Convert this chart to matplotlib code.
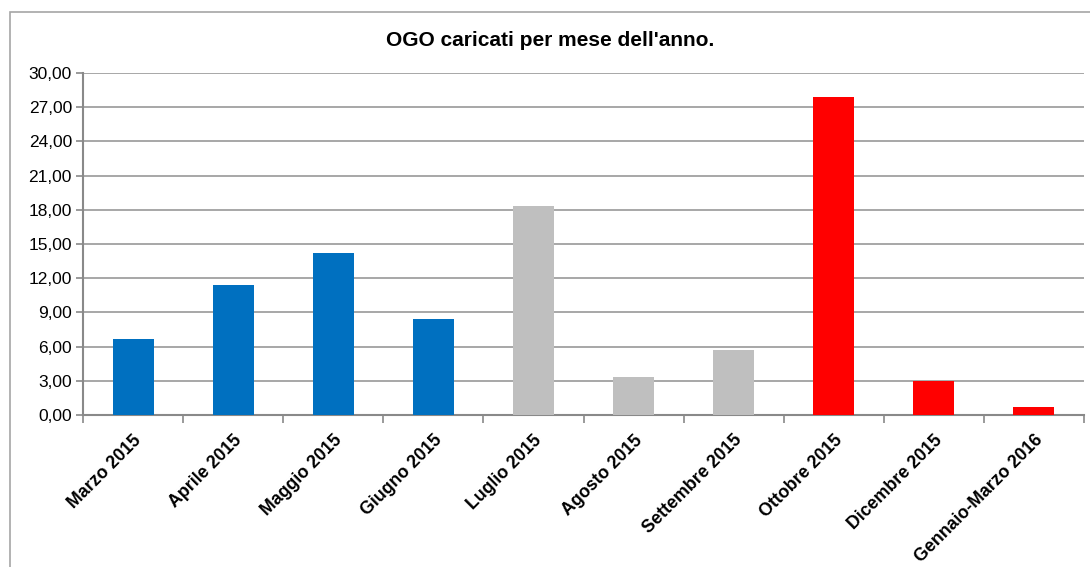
import matplotlib
matplotlib.use("Agg")
import matplotlib.pyplot as plt
from matplotlib.patches import Rectangle
from matplotlib.ticker import FixedLocator, FuncFormatter

plt.rcParams['font.family'] = ['Liberation Sans', 'DejaVu Sans']

categories = ["Marzo 2015", "Aprile 2015", "Maggio 2015", "Giugno 2015",
              "Luglio 2015", "Agosto 2015", "Settembre 2015", "Ottobre 2015",
              "Dicembre 2015", "Gennaio-Marzo 2016"]
values = [6.67, 11.40, 14.24, 8.42, 18.36, 3.33, 5.70, 27.90, 3.00, 0.68]
bar_colors = ["#0070C0"] * 4 + ["#BFBFBF"] * 3 + ["#FF0000"] * 3
y_ticks = [0, 3, 6, 9, 12, 15, 18, 21, 24, 27, 30]

W, H = 1090, 567
fig = plt.figure(figsize=(W / 100, H / 100), dpi=100)
fig.patch.set_facecolor("white")

# chart frame (runs past the right and bottom edges)
fig.add_artist(Rectangle((10 / W, -0.1), 1.2, 1.1 - 12 / H, transform=fig.transFigure,
                         fill=False, edgecolor="#A6A6A6", linewidth=1.2))

left, right, top, bottom = 83, 1084, 73, 415
ax = fig.add_axes([left / W, 1 - bottom / H, (right - left) / W, (bottom - top) / H])

x = list(range(len(categories)))
ax.bar(x, values, width=0.41, color=bar_colors, zorder=3)

ax.set_xlim(-0.5, len(categories) - 0.5)
ax.set_ylim(0, 30)
ax.yaxis.set_major_locator(FixedLocator(y_ticks))
ax.yaxis.set_major_formatter(FuncFormatter(lambda v, p: f"{v:.2f}".replace(".", ",")))
ax.grid(axis="y", color="#A0A0A0", linewidth=1.3, zorder=0)

for s in ["top", "right"]:
    ax.spines[s].set_visible(False)
for s in ["left", "bottom"]:
    ax.spines[s].set_color("#898989")
    ax.spines[s].set_linewidth(1.5)

ax.tick_params(axis="y", length=5, width=1.2, color="#898989", labelsize=12.5, pad=3)
ax.set_xticks([i + 0.5 for i in range(-1, len(categories))], minor=False)
ax.set_xticklabels([])
ax.tick_params(axis="x", which="major", length=6, width=1.2, color="#898989")
ax.set_xticks(x, minor=True)
ax.set_xticklabels(categories, minor=True, rotation=45, ha="right",
                   rotation_mode="anchor", fontweight="bold", fontsize=12.8)
ax.tick_params(axis="x", which="minor", length=0, pad=12)

fig.text(550 / W, 1 - 40 / H, "OGO caricati per mese dell'anno.", ha="center", va="center",
         fontsize=15, fontweight="bold")

fig.savefig("out.png", dpi=100)
